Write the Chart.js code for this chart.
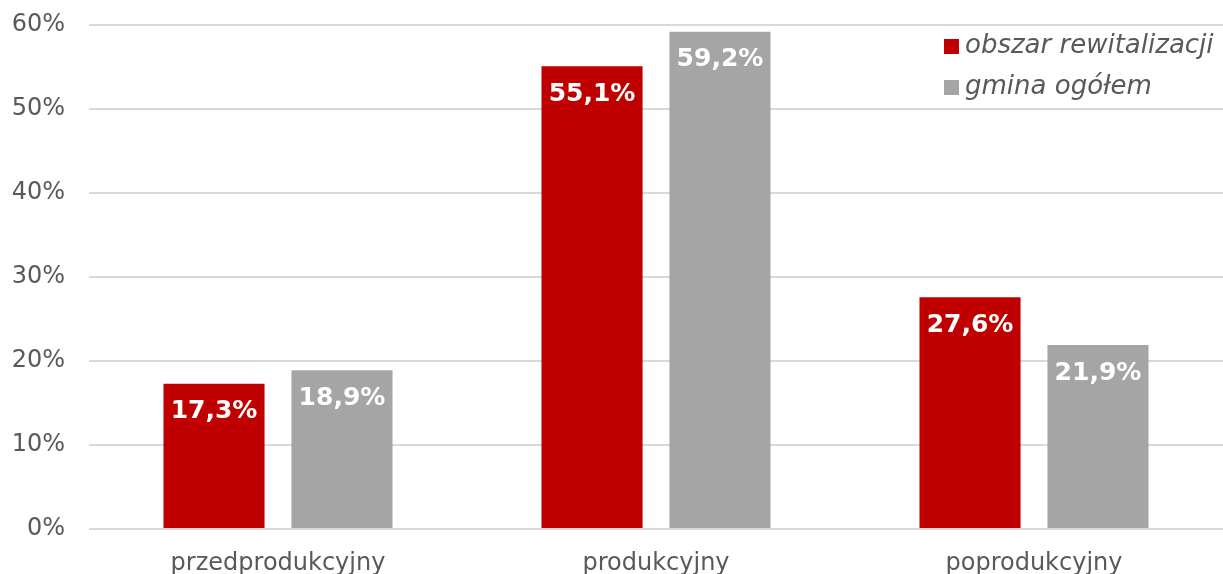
<!DOCTYPE html>
<html>
<head>
<meta charset="utf-8">
<script src="https://cdn.jsdelivr.net/npm/chart.js@4"></script>
<style>
  body { margin: 0; background: #fff; }
</style>
</head>
<body>
<canvas id="ageChart" width="1223" height="574"></canvas>
<script>
const categories = ['przedprodukcyjny', 'produkcyjny', 'poprodukcyjny'];
const rewitalizacja = [17.3, 55.1, 27.6];
const gmina = [18.9, 59.2, 21.9];
const seriesNames = ['obszar rewitalizacji', 'gmina ogółem'];

const FONT = '"DejaVu Sans", Verdana, sans-serif';
const fmt = v => v.toFixed(1).replace('.', ',') + '%';

// white bold labels inside the top of each bar
const barLabels = {
    id: 'barLabels',
    afterDatasetsDraw(chart) {
        const ctx = chart.ctx;
        ctx.save();
        ctx.font = 'bold 25px ' + FONT;
        ctx.fillStyle = '#ffffff';
        ctx.textAlign = 'center';
        ctx.textBaseline = 'middle';
        chart.data.datasets.forEach((ds, i) => {
            chart.getDatasetMeta(i).data.forEach((bar, j) => {
                ctx.fillText(fmt(ds.data[j]), bar.x, bar.y + 28);
            });
        });
        ctx.restore();
    }
};

// legend drawn in the top right corner of the plot
const cornerLegend = {
    id: 'cornerLegend',
    afterDraw(chart) {
        const ctx = chart.ctx;
        const x = 944;
        ctx.save();
        ctx.font = 'italic 26px ' + FONT;
        ctx.textBaseline = 'middle';
        chart.data.datasets.forEach((ds, i) => {
            const y = 46 + i * 41;
            ctx.fillStyle = ds.backgroundColor;
            ctx.fillRect(x, y - 7, 15, 15);
            ctx.fillStyle = '#595959';
            ctx.fillText(ds.label, x + 21, y);
        });
        ctx.restore();
    }
};

new Chart(document.getElementById('ageChart'), {
    type: 'bar',
    data: {
        labels: categories,
        datasets: [
            { label: seriesNames[0], data: rewitalizacja, backgroundColor: '#c00000' },
            { label: seriesNames[1], data: gmina, backgroundColor: '#a5a5a5' }
        ]
    },
    options: {
        responsive: false,
        animation: false,
        layout: { padding: { left: 0, right: 0, top: 25, bottom: 0 } },
        datasets: { bar: { categoryPercentage: 0.677, barPercentage: 0.79 } },
        plugins: { legend: { display: false }, tooltip: { enabled: false } },
        scales: {
            x: {
                grid: { display: false },
                border: { display: false },
                ticks: { color: '#595959', font: { family: FONT, size: 24 }, padding: 12 },
                afterFit: s => { s.height = 45; }
            },
            y: {
                min: 0, max: 60,
                grid: { color: '#d9d9d9', lineWidth: 2, drawTicks: true, tickLength: 24, tickColor: 'rgba(0,0,0,0)' },
                border: { display: false },
                ticks: {
                    stepSize: 10,
                    color: '#595959',
                    font: { family: FONT, size: 24 },
                    padding: 0,
                    callback: v => v + '%'
                },
                afterFit: s => { s.width = 89; }
            }
        }
    },
    plugins: [barLabels, cornerLegend]
});
</script>
</body>
</html>
